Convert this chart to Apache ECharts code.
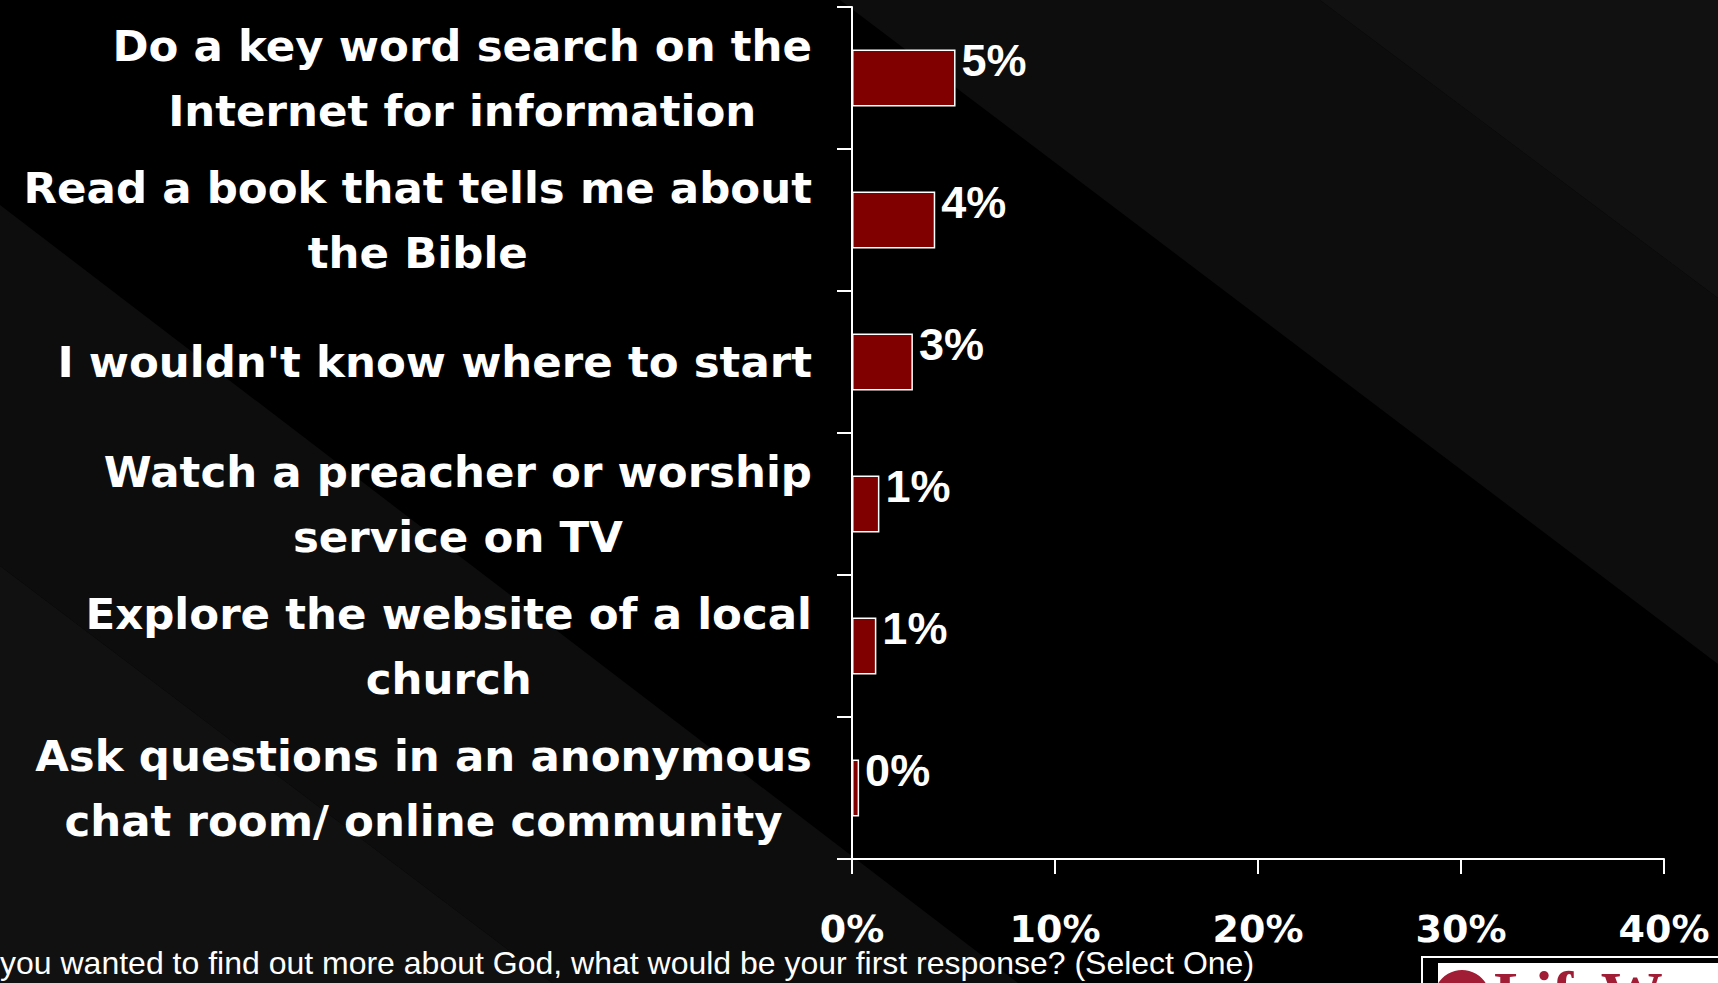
<!DOCTYPE html>
<html>
<head>
<meta charset="utf-8">
<script src="https://cdn.jsdelivr.net/npm/echarts@6/dist/echarts.min.js"></script>
<style>
  html, body { margin: 0; padding: 0; background: #000; }
  #chart { width: 1718px; height: 983px; }
</style>
</head>
<body>
<div id="chart"></div>
<script>
// ---- data ----
const categories = [
  'Do a key word search on the\nInternet for information',
  'Read a book that tells me about\nthe Bible',
  "I wouldn't know where to start",
  'Watch a preacher or worship\nservice on TV',
  'Explore the website of a local\nchurch',
  'Ask questions in an anonymous\nchat room/ online community'
];
const values = [5.1, 4.1, 3.0, 1.35, 1.2, 0.35];
const xMin = 0, xMax = 40, xInterval = 10;
const footnote = 'you wanted to find out more about God, what would be your first response? (Select One)';

const WIDE = "'DejaVu Sans', Verdana, sans-serif";
const FONT = "'Liberation Sans', Arial, sans-serif";
const chart = echarts.init(document.getElementById('chart'), null, { renderer: 'svg', width: 1718, height: 983 });

const option = {
  backgroundColor: '#000',
  animation: false,
  grid: { left: 852, right: 54, top: 7, bottom: 124, containLabel: false, outerBoundsMode: 'none' },
  graphic: [
    { type: 'polygon', z: -100, silent: true, shape: { points: [[0, 205], [0, 566], [552, 983], [1018, 983]] }, style: { fill: '#0d0d0d' } },
    { type: 'polygon', z: -100, silent: true, shape: { points: [[0, 566], [0, 983], [552, 983]] }, style: { fill: '#111111' } },
    { type: 'polygon', z: -100, silent: true, shape: { points: [[840, 0], [1320, 0], [1718, 298], [1718, 664]] }, style: { fill: '#0d0d0d' } },
    { type: 'polygon', z: -100, silent: true, shape: { points: [[1320, 0], [1718, 0], [1718, 298]] }, style: { fill: '#111111' } },
    { type: 'text', z: 10, silent: true, style: { text: footnote, x: 0, y: 963, font: "32px 'Liberation Sans', Arial, sans-serif", fill: '#ffffff', verticalAlign: 'middle', align: 'left' } },
    { type: 'rect', z: 10, silent: true, shape: { x: 1422, y: 957, width: 400, height: 100 }, style: { fill: '#000', stroke: '#ffffff', lineWidth: 2 } },
    { type: 'rect', z: 11, silent: true, shape: { x: 1438, y: 963, width: 400, height: 100 }, style: { fill: '#ffffff' } },
    { type: 'circle', z: 12, silent: true, shape: { cx: 1462, cy: 998, r: 28 }, style: { fill: '#a11d35' } },
    { type: 'text', z: 12, silent: true, style: { text: 'LifeWay', x: 1494, y: 962, font: "bold 62px 'Liberation Serif', serif", fill: '#a11d35', verticalAlign: 'top', align: 'left' } }
  ],
  xAxis: {
    type: 'value',
    min: xMin,
    max: xMax,
    interval: xInterval,
    axisLine: { show: true, lineStyle: { color: '#ffffff', width: 2 } },
    axisTick: { show: true, length: 15, inside: false, lineStyle: { color: '#ffffff', width: 2 } },
    splitLine: { show: false },
    axisLabel: {
      formatter: '{value}%',
      color: '#ffffff',
      fontFamily: WIDE,
      fontWeight: 'bold',
      fontSize: 38,
      margin: 51
    }
  },
  yAxis: {
    type: 'category',
    inverse: true,
    data: categories,
    axisLine: { show: true, lineStyle: { color: '#ffffff', width: 2 } },
    axisTick: { show: true, length: 15, inside: false, lineStyle: { color: '#ffffff', width: 2 } },
    splitLine: { show: false },
    axisLabel: {
      align: 'right',
      margin: 40,
      formatter: function (v) {
        return v.split('\n').map(function (l) { return '{c|' + l + '}'; }).join('\n');
      },
      rich: {
        c: {
          align: 'center',
          color: '#ffffff',
          fontFamily: WIDE,
          fontWeight: 'bold',
          fontSize: 43.5,
          lineHeight: 65
        }
      }
    }
  },
  series: [{
    type: 'bar',
    data: values,
    barWidth: '40%',
    itemStyle: { color: '#800000', borderColor: '#ffffff', borderWidth: 1.5 },
    label: {
      show: true,
      position: 'right',
      distance: 6,
      offset: [0, -18],
      color: '#ffffff',
      fontFamily: FONT,
      fontWeight: 'bold',
      fontSize: 45,
      formatter: function (p) { return Math.round(p.value) + '%'; }
    }
  }]
};
chart.setOption(option);
</script>
</body>
</html>
